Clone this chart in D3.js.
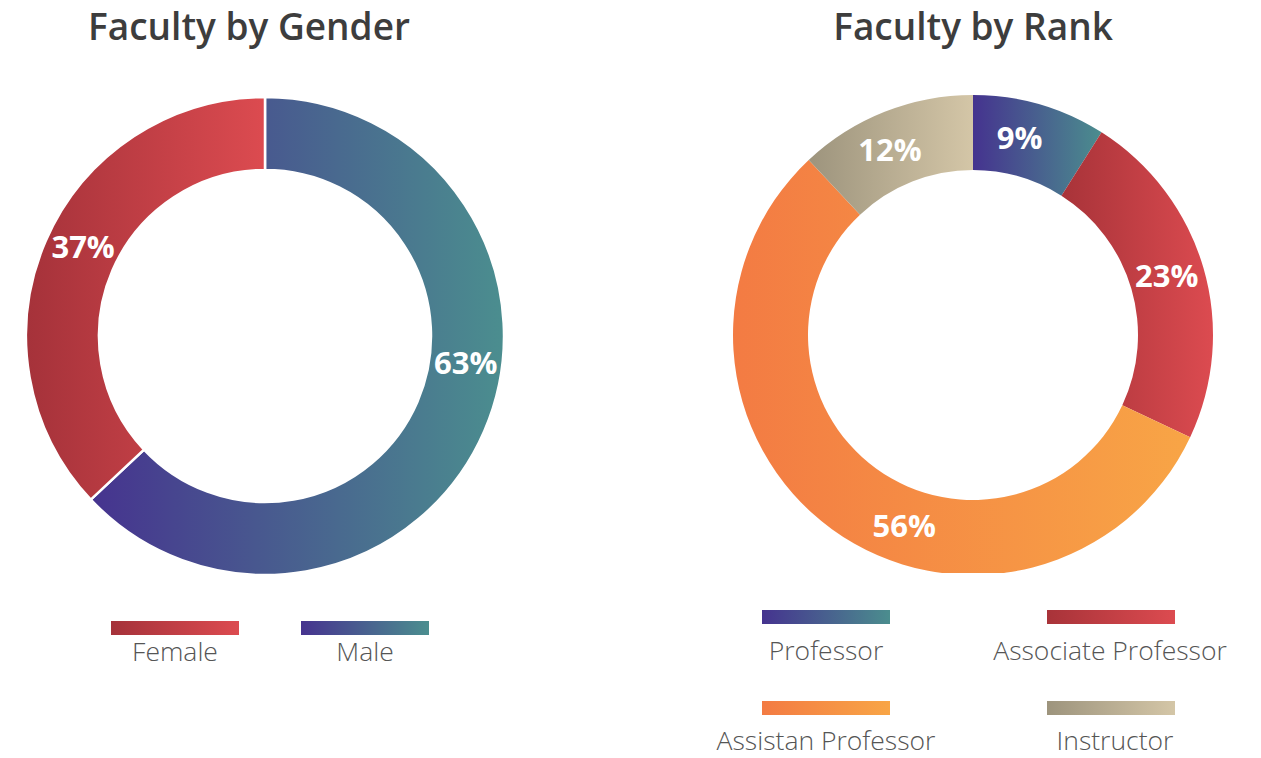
<!DOCTYPE html>
<html>
<head>
<meta charset="utf-8">
<script src="https://cdn.jsdelivr.net/npm/d3@7"></script>
<style>
  html, body { margin: 0; padding: 0; background: #fff; }
  svg { display: block; }
</style>
</head>
<body>
<svg id="chart" width="1261" height="758"></svg>
<script>
// ---------- data ----------
const genderCategories = ["Female", "Male"];
const genderValues = [37, 63];
const genderPieOrder = ["Male", "Female"]; // drawing order clockwise from 12 o'clock
const genderColors = [["#a5323a", "#dc4b50"], ["#46338f", "#4b8e8f"]];

const rankCategories = ["Professor", "Associate Professor", "Assistan Professor", "Instructor"];
const rankValues = [9, 23, 56, 12];
const rankColors = [["#45338f", "#4b8d8e"], ["#a83339", "#dc4b50"], ["#f37b43", "#f8a546"], ["#9d947d", "#d4c6a7"]];

const titles = ["Faculty by Gender", "Faculty by Rank"];

// label placement along each slice (fraction of the slice's angular span)
const genderLabelFrac = { Male: 0.43, Female: 0.52 };
const rankLabelFrac = { "Professor": 0.41, "Associate Professor": 0.49, "Assistan Professor": 0.42, "Instructor": 0.44 };

// ---------- drawing ----------
const svg = d3.select("#chart");
const defs = svg.append("defs");

function gradient(id, c) {
  const g = defs.append("linearGradient").attr("id", id)
    .attr("x1", "0%").attr("x2", "100%").attr("y1", "0%").attr("y2", "0%");
  g.append("stop").attr("offset", "0%").attr("stop-color", c[0]);
  g.append("stop").attr("offset", "100%").attr("stop-color", c[1]);
  return `url(#${id})`;
}

function donut(opts) {
  const { cx, cy, rOuter, rInner, cats, vals, order, colors, fracs, stroke, prefix, clipBottom } = opts;
  const items = cats.map((c, i) => ({ cat: c, value: vals[i], idx: i }));
  const ordered = order.map(o => items.find(d => d.cat === o));
  const pie = d3.pie().sort(null).value(d => d.value);
  const arcs = pie(ordered);
  const arc = d3.arc().innerRadius(rInner).outerRadius(rOuter);
  const labelArc = d3.arc().innerRadius((rInner + rOuter) / 2).outerRadius((rInner + rOuter) / 2);

  let g = svg.append("g");
  if (clipBottom !== undefined) {
    defs.append("clipPath").attr("id", prefix + "clip")
      .append("rect").attr("x", 0).attr("y", 0).attr("width", 1261).attr("height", clipBottom);
    g.attr("clip-path", `url(#${prefix}clip)`);
  }
  const inner = g.append("g").attr("transform", `translate(${cx},${cy})`);

  inner.selectAll("path.slice").data(arcs).join("path")
    .attr("class", "slice")
    .attr("d", arc)
    .attr("fill", d => gradient(prefix + d.data.idx, colors[d.data.idx]))
    .attr("stroke", stroke ? "#fff" : "none")
    .attr("stroke-width", stroke ? 2.5 : 0);

  inner.selectAll("text.lbl").data(arcs).join("text")
    .attr("class", "lbl")
    .attr("transform", d => {
      const f = fracs[d.data.cat];
      const a = d.startAngle + f * (d.endAngle - d.startAngle);
      const c = labelArc.centroid({ startAngle: a, endAngle: a });
      return `translate(${c[0]},${c[1]})`;
    })
    .attr("text-anchor", "middle")
    .attr("dy", "0.36em")
    .attr("fill", "#fff")
    .style("font-family", "'Open Sans', sans-serif")
    .style("font-weight", 700)
    .style("font-size", "31px")
    .text(d => d.data.value + "%");
}

function title(text, x) {
  svg.append("text").attr("x", x).attr("y", 40)
    .attr("text-anchor", "middle")
    .attr("fill", "#3d3d3d")
    .style("font-family", "'Open Sans', sans-serif")
    .style("font-weight", 600)
    .style("font-size", "37px")
    .text(text);
}

function legend(cats, colors, prefix, positions) {
  cats.forEach((c, i) => {
    const p = positions[i];
    svg.append("rect").attr("x", p.x - 64).attr("y", p.barY).attr("width", 128).attr("height", 14)
      .attr("fill", gradient(prefix + "leg" + i, colors[i]));
    svg.append("text").attr("x", p.tx).attr("y", p.ty)
      .attr("text-anchor", "middle")
      .attr("fill", "#555")
      .style("font-family", "'Open Sans', sans-serif")
      .style("font-weight", 300)
      .style("font-size", "26.5px")
      .text(c);
  });
}

title(titles[0], 249);
title(titles[1], 973);

donut({ cx: 265, cy: 336, rOuter: 239, rInner: 166, cats: genderCategories, vals: genderValues,
  order: genderPieOrder, colors: genderColors, fracs: genderLabelFrac, stroke: true, prefix: "g" });
donut({ cx: 973, cy: 335, rOuter: 240, rInner: 165, cats: rankCategories, vals: rankValues,
  order: rankCategories, colors: rankColors, fracs: rankLabelFrac, stroke: false, prefix: "r", clipBottom: 573 });

legend(genderCategories, genderColors, "g", [
  { x: 175, barY: 621, tx: 175, ty: 661 },
  { x: 365, barY: 621, tx: 365, ty: 661 }
]);
legend(rankCategories, rankColors, "r", [
  { x: 826, barY: 610, tx: 826, ty: 660 },
  { x: 1111, barY: 610, tx: 1110, ty: 660 },
  { x: 826, barY: 701, tx: 826, ty: 750 },
  { x: 1111, barY: 701, tx: 1115, ty: 750 }
]);
</script>
</body>
</html>
